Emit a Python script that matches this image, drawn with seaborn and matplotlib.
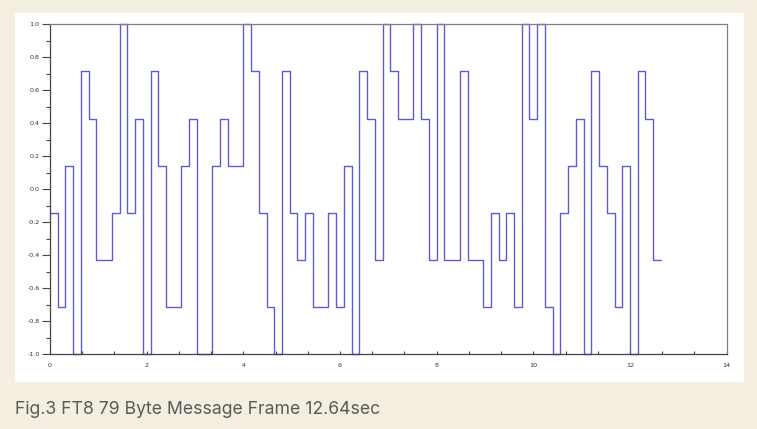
import matplotlib
matplotlib.use("Agg")
import matplotlib.pyplot as plt
from matplotlib.patches import Rectangle
from matplotlib.ticker import MultipleLocator, FormatStrFormatter
import seaborn as sns
import numpy as np
import pandas as pd

sns.set_style("white")
plt.rcParams['font.family'] = ['DejaVu Sans']

# FT8 帧：79 个符号，每个 0.16 秒，8 个音调 (0..7)
costas = [3, 1, 4, 0, 6, 5, 2]
data_block1 = [2, 3, 7, 3, 5, 0, 6, 4, 1, 1, 4, 5, 0, 0, 4, 5, 4, 4, 7, 6,
               3, 1, 0, 6, 3, 2, 3, 1, 1]
data_block2 = [7, 6, 5, 5, 7, 5, 2, 7, 2, 2, 6, 2, 2, 1, 3, 2, 3, 1, 7, 5,
               7, 1, 0, 3, 4, 5, 0, 6, 4]
symbol_sec = 0.16
caption = "Fig.3 FT8 79 Byte Message Frame 12.64sec"

tones = costas + data_block1 + costas + data_block2 + costas
tones_ext = tones + [tones[-1]]          # 最后一个点，画出最后一个台阶
t = np.arange(len(tones_ext)) * symbol_sec
level = (np.array(tones_ext) - 3.5) / 3.5
df = pd.DataFrame({"t": t, "level": level})

BG = "#f4eee1"
LINE = "#5c5cd2"

fig = plt.figure(figsize=(7.57, 4.29), dpi=100)
fig.patch.set_facecolor(BG)
W, H = 757, 429
fig.patches.append(Rectangle((15 / W, 1 - 382 / H), (744 - 15) / W, (382 - 13) / H,
                             transform=fig.transFigure, facecolor="white",
                             edgecolor="none", zorder=-5))

ax = fig.add_axes([50 / W, 1 - 354.3 / H, (726.7 - 50) / W, (354.3 - 24.3) / H])
ax.set_facecolor("white")

sns.lineplot(data=df, x="t", y="level", drawstyle="steps-post", estimator=None,
             sort=False, color=LINE, linewidth=1.0, ax=ax, clip_on=False)

ax.set_xlim(0, 14)
ax.set_ylim(-1, 1)
ax.set_xlabel("")
ax.set_ylabel("")

ax.xaxis.set_major_locator(MultipleLocator(2))
ax.xaxis.set_minor_locator(MultipleLocator(2 / 3))
ax.yaxis.set_major_locator(MultipleLocator(0.2))
ax.yaxis.set_minor_locator(MultipleLocator(0.1))
ax.yaxis.set_major_formatter(FormatStrFormatter("%.1f"))

ax.tick_params(axis="y", which="major", direction="out", length=5.5, width=0.8,
               color="#444444", labelsize=4.6, labelcolor="#333333", pad=2, left=True)
ax.tick_params(axis="y", which="minor", direction="out", length=3, width=0.8,
               color="#444444", left=True)
ax.tick_params(axis="x", which="major", direction="in", length=2.5, width=0.8,
               color="#444444", labelsize=4.6, labelcolor="#333333", pad=6, bottom=True)
ax.tick_params(axis="x", which="minor", direction="in", length=2, width=0.8,
               color="#444444", bottom=True)

for side in ["left", "bottom"]:
    ax.spines[side].set_color("#444444")
    ax.spines[side].set_linewidth(0.9)
for side in ["top", "right"]:
    ax.spines[side].set_color("#808080")
    ax.spines[side].set_linewidth(0.9)
    ax.spines[side].set_visible(True)

fig.text(15 / W, 1 - 409 / H, caption, fontsize=12.7, color="#5a5a5a",
         family=["Inter", "DejaVu Sans"], va="center", ha="left")

plt.savefig("out.png", dpi=100, facecolor=BG)
